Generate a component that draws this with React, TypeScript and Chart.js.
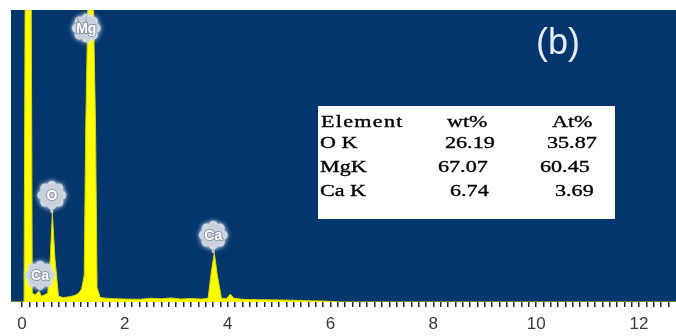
import React, { useEffect, useRef } from "react";
import { Chart, registerables } from "chart.js";

Chart.register(...registerables);

// EDS spectrum: energy (keV) against relative counts
const energyKeV = [
  -0.21, 0.04, 0.06, 0.18, 0.2, 0.26, 0.33, 0.38, 0.44, 0.5, 0.55, 0.59, 0.64, 0.71,
  0.8, 0.92, 1.02, 1.1, 1.16, 1.21, 1.24, 1.28, 1.39, 1.43, 1.46, 1.52, 1.7, 2.0,
  2.3, 2.5, 2.7, 2.9, 3.1, 3.3, 3.5, 3.62, 3.68, 3.74, 3.8, 3.88, 3.98, 4.05, 4.12,
  4.3, 4.6, 5.0, 5.3, 5.6, 5.9, 6.2, 12.72,
];
const counts = [
  0, 0, 100, 100, 3, 2.5, 3.8, 2, 2.5, 3, 15, 30.5, 15, 2,
  1.5, 1.8, 2.2, 3, 4.5, 9, 60, 100, 100, 60, 5, 1.5, 1.2, 1,
  0.9, 1.3, 1.1, 1.4, 1.0, 1.2, 1.0, 1.3, 10, 16.8, 9, 1.3, 1.2, 2.7, 1.3,
  0.9, 0.8, 0.7, 0.6, 0.4, 0.3, 0, 0,
];

// Peak identification badges: element, line energy, level of badge centre, top of its peak
const peakNames = ["Mg", "O", "Ca", "Ca"];
const peakEnergy = [1.25, 0.58, 0.35, 3.72];
const badgeLevel = [93.8, 36.6, 9.2, 22.9];
const peakTop = [93.8, 30.5, 4, 16.8];

// Axis labels
const axisLabels = ["0", "2", "4", "6", "8", "10", "12"];
const minorPerLabel = 14;

// Quantification table
const tableHeader = ["Element", "wt%", "At%"];
const tableElements = ["O K", "MgK", "Ca K"];
const tableWt = ["26.19", "67.07", "6.74"];
const tableAt = ["35.87", "60.45", "3.69"];

const BLUE = "#03366c";

function drawBadge(ctx: CanvasRenderingContext2D, x: number, y: number, stemTo: number, text: string) {
  ctx.save();
  if (stemTo > y + 12) {
    ctx.strokeStyle = "#b8c2d0";
    ctx.lineWidth = 3;
    ctx.beginPath();
    ctx.moveTo(x, y + 10);
    ctx.lineTo(x, stemTo);
    ctx.stroke();
  }
  ctx.shadowColor = "rgba(220,228,240,0.9)";
  ctx.shadowBlur = 5;
  ctx.fillStyle = "#c9d1de";
  for (let i = 0; i < 8; i++) {
    const a = (i * Math.PI) / 4;
    ctx.beginPath();
    ctx.arc(x + Math.cos(a) * 10, y + Math.sin(a) * 10, 4.5, 0, Math.PI * 2);
    ctx.fill();
  }
  ctx.beginPath();
  ctx.arc(x, y, 11.5, 0, Math.PI * 2);
  ctx.fill();
  ctx.shadowBlur = 0;
  ctx.font = "bold 14px Arial, 'Liberation Sans', sans-serif";
  ctx.textAlign = "center";
  ctx.textBaseline = "middle";
  ctx.lineWidth = 2;
  ctx.strokeStyle = "#8d97a8";
  ctx.strokeText(text, x, y + 1);
  ctx.fillStyle = "#ffffff";
  ctx.fillText(text, x, y + 1);
  ctx.restore();
}

function stretchedText(ctx: CanvasRenderingContext2D, text: string, x: number, y: number, sx: number) {
  ctx.save();
  ctx.translate(x, y);
  ctx.scale(sx, 1);
  ctx.strokeText(text, 0, 0);
  ctx.fillText(text, 0, 0);
  ctx.restore();
}

const spectrumDecor = {
  id: "spectrumDecor",
  beforeDraw(chart: any) {
    const { ctx, chartArea } = chart;
    ctx.save();
    ctx.fillStyle = BLUE;
    ctx.fillRect(chartArea.left, chartArea.top, chartArea.right - chartArea.left, chartArea.bottom - chartArea.top);
    ctx.restore();
  },
  afterDraw(chart: any) {
    const { ctx } = chart;
    const xs = chart.scales.x;
    const ys = chart.scales.y;

    peakNames.forEach((name, i) => {
      const px = xs.getPixelForValue(peakEnergy[i]);
      const py = ys.getPixelForValue(badgeLevel[i]);
      const top = ys.getPixelForValue(peakTop[i]);
      drawBadge(ctx, px, py, top, name);
    });

    // panel tag
    ctx.save();
    ctx.fillStyle = "#e6ecf4";
    ctx.font = "36px Arial, 'Liberation Sans', sans-serif";
    ctx.textAlign = "center";
    ctx.textBaseline = "middle";
    ctx.fillText("(b)", 558, 44);
    ctx.restore();

    // quantification table
    ctx.save();
    ctx.fillStyle = "#ffffff";
    ctx.fillRect(318, 106, 297, 113);
    ctx.fillStyle = "#000000";
    ctx.strokeStyle = "#000000";
    ctx.lineWidth = 0.35;
    ctx.font = "17px 'Liberation Serif', 'Times New Roman', serif";
    ctx.textBaseline = "alphabetic";
    const sx = 1.3;
    ctx.save();
    ctx.letterSpacing = "1px";
    stretchedText(ctx, tableHeader[0], 321, 127, sx);
    ctx.restore();
    stretchedText(ctx, tableHeader[1], 447, 127, sx);
    stretchedText(ctx, tableHeader[2], 552, 127, sx);
    const rowY = [148, 172, 196];
    const wtX = [445, 438, 450];
    const atX = [547, 540, 555];
    tableElements.forEach((el, i) => {
      stretchedText(ctx, el, 320, rowY[i], sx);
      stretchedText(ctx, tableWt[i], wtX[i], rowY[i], sx);
      stretchedText(ctx, tableAt[i], atX[i], rowY[i], sx);
    });
    ctx.restore();
  },
};

export default function App() {
  const canvasRef = useRef<HTMLCanvasElement | null>(null);

  useEffect(() => {
    if (!canvasRef.current) return;
    const points = energyKeV.map((e, i) => ({ x: e, y: counts[i] }));
    const labelValues = axisLabels.map((l) => Number(l));
    const lastLabel = labelValues[labelValues.length - 1];
    const step = (labelValues[1] - labelValues[0]) / minorPerLabel;

    const chart = new Chart(canvasRef.current, {
      type: "line",
      data: {
        datasets: [
          {
            data: points,
            parsing: false,
            fill: "origin",
            backgroundColor: "#ffff00",
            borderColor: "#d6d600",
            borderWidth: 1,
            pointRadius: 0,
            tension: 0,
          },
        ],
      },
      options: {
        animation: false,
        responsive: false,
        devicePixelRatio: 1,
        layout: { padding: { left: 11, top: 10, right: 0, bottom: 0 } },
        plugins: { legend: { display: false }, tooltip: { enabled: false } },
        scales: {
          x: {
            type: "linear",
            min: -0.214,
            max: 12.72,
            border: { display: false },
            grid: {
              drawOnChartArea: false,
              drawTicks: true,
              tickLength: 5,
              color: "#2a2a2a",
              lineWidth: 1.5,
            },
            afterBuildTicks: (scale: any) => {
              const t: { value: number }[] = [];
              for (let i = 0; i * step <= 12.7; i++) t.push({ value: i * step });
              scale.ticks = t;
            },
            afterFit: (scale: any) => {
              scale.height = 34;
            },
            ticks: {
              autoSkip: false,
              maxRotation: 0,
              padding: 7,
              color: "#3a3a3a",
              font: { size: 17, family: "Arial, 'Liberation Sans', sans-serif" },
              callback: (v: any) => {
                const n = Number(v);
                const idx = labelValues.findIndex((lv) => Math.abs(lv - n) < 1e-6);
                return idx >= 0 && n <= lastLabel ? axisLabels[idx] : "";
              },
            },
          },
          y: {
            display: false,
            min: 0,
            max: 100,
          },
        },
      },
      plugins: [spectrumDecor],
    });
    return () => chart.destroy();
  }, []);

  return (
    <div style={{ position: "absolute", left: 0, top: 0, width: 676, height: 336, background: "#ffffff" }}>
      <canvas ref={canvasRef} width={676} height={336} />
    </div>
  );
}
